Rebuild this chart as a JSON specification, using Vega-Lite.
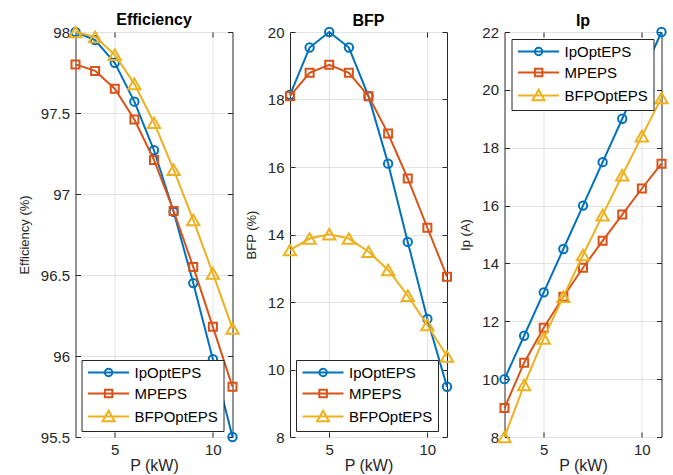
{
"$schema": "https://vega.github.io/schema/vega-lite/v6.json",
"padding": {"left": 17.5, "top": 11, "right": 0, "bottom": 0},
"autosize": {"type": "pad"},
"bounds": "flush",
"spacing": 57.5,
"datasets": {
"eff": [
{"P":3,"s":"IpOptEPS","v":98.0},{"P":4,"s":"IpOptEPS","v":97.95},{"P":5,"s":"IpOptEPS","v":97.81},{"P":6,"s":"IpOptEPS","v":97.57},{"P":7,"s":"IpOptEPS","v":97.27},{"P":8,"s":"IpOptEPS","v":96.89},{"P":9,"s":"IpOptEPS","v":96.45},{"P":10,"s":"IpOptEPS","v":95.98},{"P":11,"s":"IpOptEPS","v":95.5},
{"P":3,"s":"MPEPS","v":97.8},{"P":4,"s":"MPEPS","v":97.76},{"P":5,"s":"MPEPS","v":97.65},{"P":6,"s":"MPEPS","v":97.46},{"P":7,"s":"MPEPS","v":97.21},{"P":8,"s":"MPEPS","v":96.895},{"P":9,"s":"MPEPS","v":96.55},{"P":10,"s":"MPEPS","v":96.18},{"P":11,"s":"MPEPS","v":95.81},
{"P":3,"s":"BFPOptEPS","v":98.0},{"P":4,"s":"BFPOptEPS","v":97.97},{"P":5,"s":"BFPOptEPS","v":97.86},{"P":6,"s":"BFPOptEPS","v":97.68},{"P":7,"s":"BFPOptEPS","v":97.44},{"P":8,"s":"BFPOptEPS","v":97.15},{"P":9,"s":"BFPOptEPS","v":96.84},{"P":10,"s":"BFPOptEPS","v":96.51},{"P":11,"s":"BFPOptEPS","v":96.17}
],
"bfp": [
{"P":3,"s":"IpOptEPS","v":18.14},{"P":4,"s":"IpOptEPS","v":19.54},{"P":5,"s":"IpOptEPS","v":20.0},{"P":6,"s":"IpOptEPS","v":19.54},{"P":7,"s":"IpOptEPS","v":18.1},{"P":8,"s":"IpOptEPS","v":16.1},{"P":9,"s":"IpOptEPS","v":13.78},{"P":10,"s":"IpOptEPS","v":11.5},{"P":11,"s":"IpOptEPS","v":9.49},
{"P":3,"s":"MPEPS","v":18.1},{"P":4,"s":"MPEPS","v":18.79},{"P":5,"s":"MPEPS","v":19.03},{"P":6,"s":"MPEPS","v":18.79},{"P":7,"s":"MPEPS","v":18.1},{"P":8,"s":"MPEPS","v":16.99},{"P":9,"s":"MPEPS","v":15.66},{"P":10,"s":"MPEPS","v":14.2},{"P":11,"s":"MPEPS","v":12.75},
{"P":3,"s":"BFPOptEPS","v":13.54},{"P":4,"s":"BFPOptEPS","v":13.88},{"P":5,"s":"BFPOptEPS","v":14.01},{"P":6,"s":"BFPOptEPS","v":13.88},{"P":7,"s":"BFPOptEPS","v":13.49},{"P":8,"s":"BFPOptEPS","v":12.95},{"P":9,"s":"BFPOptEPS","v":12.19},{"P":10,"s":"BFPOptEPS","v":11.32},{"P":11,"s":"BFPOptEPS","v":10.39}
],
"ip": [
{"P":3,"s":"IpOptEPS","v":10.0},{"P":4,"s":"IpOptEPS","v":11.5},{"P":5,"s":"IpOptEPS","v":13.0},{"P":6,"s":"IpOptEPS","v":14.5},{"P":7,"s":"IpOptEPS","v":16.0},{"P":8,"s":"IpOptEPS","v":17.5},{"P":9,"s":"IpOptEPS","v":19.0},{"P":10,"s":"IpOptEPS","v":20.5},{"P":11,"s":"IpOptEPS","v":22.0},
{"P":3,"s":"MPEPS","v":9.0},{"P":4,"s":"MPEPS","v":10.57},{"P":5,"s":"MPEPS","v":11.78},{"P":6,"s":"MPEPS","v":12.85},{"P":7,"s":"MPEPS","v":13.85},{"P":8,"s":"MPEPS","v":14.78},{"P":9,"s":"MPEPS","v":15.69},{"P":10,"s":"MPEPS","v":16.59},{"P":11,"s":"MPEPS","v":17.45},
{"P":3,"s":"BFPOptEPS","v":8.0},{"P":4,"s":"BFPOptEPS","v":9.8},{"P":5,"s":"BFPOptEPS","v":11.41},{"P":6,"s":"BFPOptEPS","v":12.85},{"P":7,"s":"BFPOptEPS","v":14.29},{"P":8,"s":"BFPOptEPS","v":15.67},{"P":9,"s":"BFPOptEPS","v":17.05},{"P":10,"s":"BFPOptEPS","v":18.4},{"P":11,"s":"BFPOptEPS","v":19.72}
]
},
"hconcat": [
{
"width": 157, "height": 405,
"title": "Efficiency",
"data": {"name": "eff"},
"layer": [
{"transform": [{"filter": "datum.s === 'IpOptEPS'"}], "mark": {"type": "line", "strokeWidth": 2, "color": "#0072BD"},
 "encoding": {
  "x": {"field": "P", "type": "quantitative", "scale": {"domain": [3, 11], "nice": false, "zero": false}, "axis": {"orient": "bottom", "values": [5, 10], "title": "P (kW)"}},
  "y": {"field": "v", "type": "quantitative", "scale": {"domain": [95.5, 98], "nice": false, "zero": false}, "axis": {"orient": "left", "values": [95.5, 96, 96.5, 97, 97.5, 98], "format": "~g", "title": "Efficiency (%)"}}
 }},
{"transform": [{"filter": "datum.s === 'IpOptEPS'"}], "mark": {"type": "point", "shape": "circle", "filled": false, "strokeWidth": 2, "size": 70, "color": "#0072BD", "opacity": 1},
 "encoding": {"x": {"field": "P", "type": "quantitative", "axis": null}, "y": {"field": "v", "type": "quantitative", "axis": null}}},
{"transform": [{"filter": "datum.s === 'MPEPS'"}], "mark": {"type": "line", "strokeWidth": 2, "color": "#D95319"},
 "encoding": {"x": {"field": "P", "type": "quantitative", "axis": null}, "y": {"field": "v", "type": "quantitative", "axis": null}}},
{"transform": [{"filter": "datum.s === 'MPEPS'"}], "mark": {"type": "point", "shape": "square", "filled": false, "strokeWidth": 2, "size": 64, "color": "#D95319", "opacity": 1},
 "encoding": {"x": {"field": "P", "type": "quantitative", "axis": null}, "y": {"field": "v", "type": "quantitative", "axis": null}}},
{"transform": [{"filter": "datum.s === 'BFPOptEPS'"}], "mark": {"type": "line", "strokeWidth": 2, "color": "#EDB120"},
 "encoding": {"x": {"field": "P", "type": "quantitative", "axis": null}, "y": {"field": "v", "type": "quantitative", "axis": null}}},
{"transform": [{"filter": "datum.s === 'BFPOptEPS'"}], "mark": {"type": "point", "shape": "triangle-up", "filled": false, "strokeWidth": 2, "size": 150, "color": "#EDB120", "opacity": 1},
 "encoding": {"x": {"field": "P", "type": "quantitative", "axis": null}, "y": {"field": "v", "type": "quantitative", "axis": null}}},
{"data": {"values": []}, "mark": {"type": "point", "filled": false, "strokeWidth": 2, "opacity": 1},
 "encoding": {
  "x": {"field": "P", "type": "quantitative", "axis": {"orient": "top", "values": [5, 10], "labels": false, "title": null, "grid": false, "minExtent": 0, "maxExtent": 0, "labelPadding": 0}},
  "y": {"field": "v", "type": "quantitative", "axis": {"orient": "right", "values": [95.5, 96, 96.5, 97, 97.5, 98], "labels": false, "title": null, "grid": false, "minExtent": 0, "maxExtent": 0, "labelPadding": 0}},
  "color": {"field": "s", "type": "nominal", "scale": {"domain": ["IpOptEPS", "MPEPS", "BFPOptEPS"], "range": ["#0072BD", "#D95319", "#EDB120"]}, "legend": {"orient": "bottom-left", "offset": 6}},
  "shape": {"field": "s", "type": "nominal", "scale": {"domain": ["IpOptEPS", "MPEPS", "BFPOptEPS"], "range": ["M-1.2,0H7M3.67,0A0.75,0.75,0,1,1,2.17,0A0.75,0.75,0,1,1,3.67,0", "M-1.2,0H7M2.17,-0.75H3.67V0.75H2.17Z", "M-1.2,0H7M2.92,-1.15L4.12,0.95H1.72Z"]}, "legend": {"orient": "bottom-left", "offset": 6}}
 }}
],
"resolve": {"axis": {"x": "independent", "y": "independent"}}
},
{
"width": 157, "height": 405,
"title": "BFP",
"data": {"name": "bfp"},
"layer": [
{"transform": [{"filter": "datum.s === 'IpOptEPS'"}], "mark": {"type": "line", "strokeWidth": 2, "color": "#0072BD"},
 "encoding": {
  "x": {"field": "P", "type": "quantitative", "scale": {"domain": [3, 11], "nice": false, "zero": false}, "axis": {"orient": "bottom", "values": [5, 10], "title": "P (kW)"}},
  "y": {"field": "v", "type": "quantitative", "scale": {"domain": [8, 20], "nice": false, "zero": false}, "axis": {"orient": "left", "values": [8, 10, 12, 14, 16, 18, 20], "title": "BFP (%)"}}
 }},
{"transform": [{"filter": "datum.s === 'IpOptEPS'"}], "mark": {"type": "point", "shape": "circle", "filled": false, "strokeWidth": 2, "size": 70, "color": "#0072BD", "opacity": 1},
 "encoding": {"x": {"field": "P", "type": "quantitative", "axis": null}, "y": {"field": "v", "type": "quantitative", "axis": null}}},
{"transform": [{"filter": "datum.s === 'MPEPS'"}], "mark": {"type": "line", "strokeWidth": 2, "color": "#D95319"},
 "encoding": {"x": {"field": "P", "type": "quantitative", "axis": null}, "y": {"field": "v", "type": "quantitative", "axis": null}}},
{"transform": [{"filter": "datum.s === 'MPEPS'"}], "mark": {"type": "point", "shape": "square", "filled": false, "strokeWidth": 2, "size": 64, "color": "#D95319", "opacity": 1},
 "encoding": {"x": {"field": "P", "type": "quantitative", "axis": null}, "y": {"field": "v", "type": "quantitative", "axis": null}}},
{"transform": [{"filter": "datum.s === 'BFPOptEPS'"}], "mark": {"type": "line", "strokeWidth": 2, "color": "#EDB120"},
 "encoding": {"x": {"field": "P", "type": "quantitative", "axis": null}, "y": {"field": "v", "type": "quantitative", "axis": null}}},
{"transform": [{"filter": "datum.s === 'BFPOptEPS'"}], "mark": {"type": "point", "shape": "triangle-up", "filled": false, "strokeWidth": 2, "size": 150, "color": "#EDB120", "opacity": 1},
 "encoding": {"x": {"field": "P", "type": "quantitative", "axis": null}, "y": {"field": "v", "type": "quantitative", "axis": null}}},
{"data": {"values": []}, "mark": {"type": "point", "filled": false, "strokeWidth": 2, "opacity": 1},
 "encoding": {
  "x": {"field": "P", "type": "quantitative", "axis": {"orient": "top", "values": [5, 10], "labels": false, "title": null, "grid": false, "minExtent": 0, "maxExtent": 0, "labelPadding": 0}},
  "y": {"field": "v", "type": "quantitative", "axis": {"orient": "right", "values": [8, 10, 12, 14, 16, 18, 20], "labels": false, "title": null, "grid": false, "minExtent": 0, "maxExtent": 0, "labelPadding": 0}},
  "color": {"field": "s", "type": "nominal", "scale": {"domain": ["IpOptEPS", "MPEPS", "BFPOptEPS"], "range": ["#0072BD", "#D95319", "#EDB120"]}, "legend": {"orient": "bottom-left", "offset": 6}},
  "shape": {"field": "s", "type": "nominal", "scale": {"domain": ["IpOptEPS", "MPEPS", "BFPOptEPS"], "range": ["M-1.2,0H7M3.67,0A0.75,0.75,0,1,1,2.17,0A0.75,0.75,0,1,1,3.67,0", "M-1.2,0H7M2.17,-0.75H3.67V0.75H2.17Z", "M-1.2,0H7M2.92,-1.15L4.12,0.95H1.72Z"]}, "legend": {"orient": "bottom-left", "offset": 6}}
 }}
],
"resolve": {"axis": {"x": "independent", "y": "independent"}}
},
{
"width": 157, "height": 405,
"title": "Ip",
"data": {"name": "ip"},
"layer": [
{"transform": [{"filter": "datum.s === 'IpOptEPS'"}], "mark": {"type": "line", "strokeWidth": 2, "color": "#0072BD"},
 "encoding": {
  "x": {"field": "P", "type": "quantitative", "scale": {"domain": [3, 11], "nice": false, "zero": false}, "axis": {"orient": "bottom", "values": [5, 10], "title": "P (kW)"}},
  "y": {"field": "v", "type": "quantitative", "scale": {"domain": [8, 22], "nice": false, "zero": false}, "axis": {"orient": "left", "values": [8, 10, 12, 14, 16, 18, 20, 22], "title": "Ip (A)"}}
 }},
{"transform": [{"filter": "datum.s === 'IpOptEPS'"}], "mark": {"type": "point", "shape": "circle", "filled": false, "strokeWidth": 2, "size": 70, "color": "#0072BD", "opacity": 1},
 "encoding": {"x": {"field": "P", "type": "quantitative", "axis": null}, "y": {"field": "v", "type": "quantitative", "axis": null}}},
{"transform": [{"filter": "datum.s === 'MPEPS'"}], "mark": {"type": "line", "strokeWidth": 2, "color": "#D95319"},
 "encoding": {"x": {"field": "P", "type": "quantitative", "axis": null}, "y": {"field": "v", "type": "quantitative", "axis": null}}},
{"transform": [{"filter": "datum.s === 'MPEPS'"}], "mark": {"type": "point", "shape": "square", "filled": false, "strokeWidth": 2, "size": 64, "color": "#D95319", "opacity": 1},
 "encoding": {"x": {"field": "P", "type": "quantitative", "axis": null}, "y": {"field": "v", "type": "quantitative", "axis": null}}},
{"transform": [{"filter": "datum.s === 'BFPOptEPS'"}], "mark": {"type": "line", "strokeWidth": 2, "color": "#EDB120"},
 "encoding": {"x": {"field": "P", "type": "quantitative", "axis": null}, "y": {"field": "v", "type": "quantitative", "axis": null}}},
{"transform": [{"filter": "datum.s === 'BFPOptEPS'"}], "mark": {"type": "point", "shape": "triangle-up", "filled": false, "strokeWidth": 2, "size": 150, "color": "#EDB120", "opacity": 1},
 "encoding": {"x": {"field": "P", "type": "quantitative", "axis": null}, "y": {"field": "v", "type": "quantitative", "axis": null}}},
{"data": {"values": []}, "mark": {"type": "point", "filled": false, "strokeWidth": 2, "opacity": 1},
 "encoding": {
  "x": {"field": "P", "type": "quantitative", "axis": {"orient": "top", "values": [5, 10], "labels": false, "title": null, "grid": false, "minExtent": 0, "maxExtent": 0, "labelPadding": 0}},
  "y": {"field": "v", "type": "quantitative", "axis": {"orient": "right", "values": [8, 10, 12, 14, 16, 18, 20, 22], "labels": false, "title": null, "grid": false, "minExtent": 0, "maxExtent": 0, "labelPadding": 0}},
  "color": {"field": "s", "type": "nominal", "scale": {"domain": ["IpOptEPS", "MPEPS", "BFPOptEPS"], "range": ["#0072BD", "#D95319", "#EDB120"]}, "legend": {"orient": "top-left", "offset": 7}},
  "shape": {"field": "s", "type": "nominal", "scale": {"domain": ["IpOptEPS", "MPEPS", "BFPOptEPS"], "range": ["M-1.2,0H7M3.67,0A0.75,0.75,0,1,1,2.17,0A0.75,0.75,0,1,1,3.67,0", "M-1.2,0H7M2.17,-0.75H3.67V0.75H2.17Z", "M-1.2,0H7M2.92,-1.15L4.12,0.95H1.72Z"]}, "legend": {"orient": "top-left", "offset": 7}}
 }}
],
"resolve": {"axis": {"x": "independent", "y": "independent"}}
}
],
"resolve": {"scale": {"color": "independent", "shape": "independent", "x": "independent", "y": "independent"}, "legend": {"color": "independent", "shape": "independent"}},
"config": {
 "font": "Liberation Sans",
 "view": {"stroke": "#262626", "strokeWidth": 1},
 "axis": {"domain": false, "tickSize": -5, "tickColor": "#262626", "tickWidth": 1, "labelPadding": 11, "labelFont": "Liberation Sans", "labelFontSize": 15, "labelColor": "#262626", "titleFont": "Liberation Sans", "titleFontSize": 13, "titleFontWeight": "normal", "titleColor": "#262626", "gridColor": "#e3e3e3", "gridWidth": 1},
 "axisX": {"titleFontSize": 16, "titlePadding": 0, "labelPadding": 10, "labelFlush": false},
 "axisY": {"titlePadding": 9},
 "title": {"fontSize": 16, "fontWeight": "bold", "offset": -5, "color": "#000000", "font": "Liberation Sans"},
 "legend": {"title": null, "offset": 7, "padding": 5, "strokeColor": "#262626", "strokeWidth": 1, "fillColor": "#ffffff", "cornerRadius": 0, "labelFont": "Liberation Sans", "labelFontSize": 15, "labelColor": "#000000", "symbolSize": 100, "symbolStrokeWidth": 2, "symbolFillColor": "transparent", "labelOffset": 33, "rowPadding": 4}
}
}
